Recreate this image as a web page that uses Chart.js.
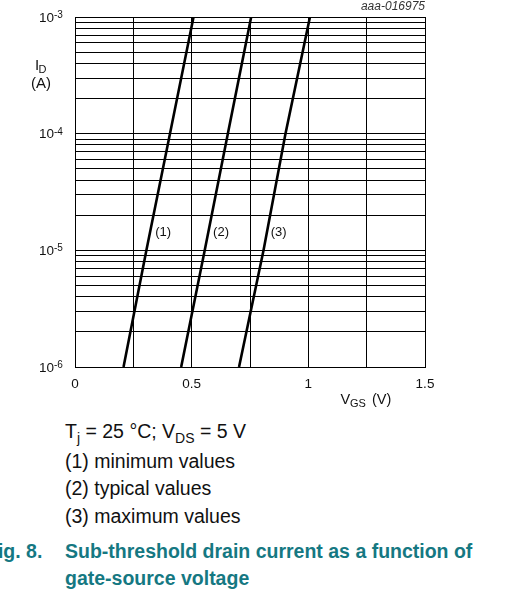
<!DOCTYPE html>
<html>
<head>
<meta charset="utf-8">
<script src="https://cdn.jsdelivr.net/npm/chart.js@4/dist/chart.umd.min.js"></script>
<style>
  body { margin: 0; background: #fff; font-family: Arial, "Liberation Sans", sans-serif; }
  #wrap { position: absolute; left: 0; top: 0; width: 507px; height: 415px; }
  .cap { position: absolute; left: 65px; font-size: 19.5px; line-height: 27px; color: #111; white-space: nowrap; }
  .cap sub { font-size: 14px; vertical-align: -5px; line-height: 0; }
  .ttl { position: absolute; font-size: 19.5px; line-height: 27px; font-weight: bold; color: #157882; white-space: nowrap; }
</style>
</head>
<body>
<div id="wrap"><canvas id="chart"></canvas></div>

<div class="cap" style="top:418px">T<sub>j</sub> = 25 °C; V<sub>DS</sub> = 5 V</div>
<div class="cap" style="top:448px">(1) minimum values</div>
<div class="cap" style="top:475px">(2) typical values</div>
<div class="cap" style="top:503px">(3) maximum values</div>
<div class="ttl" style="top:538px; left:-14px">Fig. 8.</div>
<div class="ttl" style="top:538px; left:65px">Sub-threshold drain current as a function of</div>
<div class="ttl" style="top:565px; left:65px">gate-source voltage</div>

<script>
// drain current levels (A)
const idLevels = [1e-6, 1e-5, 1e-4, 1e-3];
// gate-source voltage (V) at each current level
const vgsMin = [0.208, 0.306, 0.407, 0.508];
const vgsTyp = [0.455, 0.556, 0.655, 0.755];
const vgsMax = [0.703, 0.808, 0.902, 1.007];
const curveNames = ["(1)", "(2)", "(3)"];
const xTicks = [0, 0.5, 1, 1.5];
const yDecades = [-6, -5, -4, -3];

function toPoints(xs) {
  return xs.map((v, i) => ({ x: v, y: idLevels[i] }));
}

// where the curve names sit (data coords)
const nameSpots = [
  { x: 0.378, y: 1.42e-5 },
  { x: 0.626, y: 1.42e-5 },
  { x: 0.873, y: 1.42e-5 },
];

const extraText = {
  id: "extraText",
  afterDraw(chart) {
    const ctx = chart.ctx;
    const xs = chart.scales.x;
    const ys = chart.scales.y;
    ctx.save();
    ctx.fillStyle = "#111";

    // y tick labels 10^n
    yDecades.forEach((e) => {
      const py = ys.getPixelForValue(Math.pow(10, e));
      ctx.font = "13.5px Arial, 'Liberation Sans'";
      ctx.textAlign = "right";
      ctx.textBaseline = "alphabetic";
      ctx.fillText("10", 54, py + 4.8);
      ctx.font = "10px Arial, 'Liberation Sans'";
      ctx.textAlign = "left";
      ctx.fillText(String(e), 54, py + 1);
    });

    // y title
    ctx.font = "15px Arial, 'Liberation Sans'";
    ctx.textAlign = "left";
    ctx.fillText("I", 35, 70);
    ctx.font = "11px Arial, 'Liberation Sans'";
    ctx.fillText("D", 38.5, 73);
    ctx.font = "15px Arial, 'Liberation Sans'";
    ctx.textAlign = "center";
    ctx.fillText("(A)", 41, 88);

    // x title
    ctx.textAlign = "left";
    ctx.font = "14.5px Arial, 'Liberation Sans'";
    ctx.fillText("V", 340.5, 404);
    ctx.font = "11px Arial, 'Liberation Sans'";
    ctx.fillText("GS", 350, 407);
    ctx.font = "14.5px Arial, 'Liberation Sans'";
    ctx.fillText("(V)", 372, 404);

    // curve names
    ctx.font = "13px Arial, 'Liberation Sans'";
    ctx.textAlign = "center";
    ctx.textBaseline = "middle";
    nameSpots.forEach((p, i) => {
      ctx.fillText(curveNames[i], xs.getPixelForValue(p.x), ys.getPixelForValue(p.y));
    });

    // drawing code
    ctx.font = "italic 12px Arial, 'Liberation Sans'";
    ctx.textAlign = "right";
    ctx.fillStyle = "#333";
    ctx.fillText("aaa-016975", 425, 7);
    ctx.restore();
  },
};

const line = (data) => ({
  data: toPoints(data),
  showLine: true,
  borderColor: "#000",
  borderWidth: 2.6,
  pointRadius: 0,
  fill: false,
});

new Chart(document.getElementById("chart"), {
  type: "scatter",
  data: {
    datasets: [line(vgsMin), line(vgsTyp), line(vgsMax)],
  },
  options: {
    responsive: true,
    maintainAspectRatio: false,
    animation: false,
    layout: { padding: { top: 17, right: 82, left: 0, bottom: 0 } },
    plugins: { legend: { display: false }, tooltip: { enabled: false } },
    scales: {
      x: {
        type: "linear",
        min: 0,
        max: 1.5,
        afterFit: (s) => { s.height = 48; },
        ticks: {
          stepSize: 0.25,
          padding: 9,
          color: "#111",
          font: { size: 13.5, family: "Arial, 'Liberation Sans'" },
          callback: (v) => (xTicks.includes(v) ? String(v) : ""),
        },
        grid: { color: "#000", lineWidth: 1, drawTicks: false },
        border: { color: "#000", width: 1 },
      },
      y: {
        type: "logarithmic",
        min: 1e-6,
        max: 1e-3,
        afterFit: (s) => { s.width = 75; },
        afterBuildTicks: (s) => {
          const t = [];
          for (let e = -6; e < -3; e++) {
            for (let m = 1; m <= 9; m++) t.push({ value: m * Math.pow(10, e) });
          }
          t.push({ value: 1e-3 });
          s.ticks = t;
        },
        ticks: { display: false },
        grid: { color: "#000", lineWidth: 1, drawTicks: false },
        border: { color: "#000", width: 1 },
      },
    },
  },
  plugins: [extraText],
});
</script>
</body>
</html>
